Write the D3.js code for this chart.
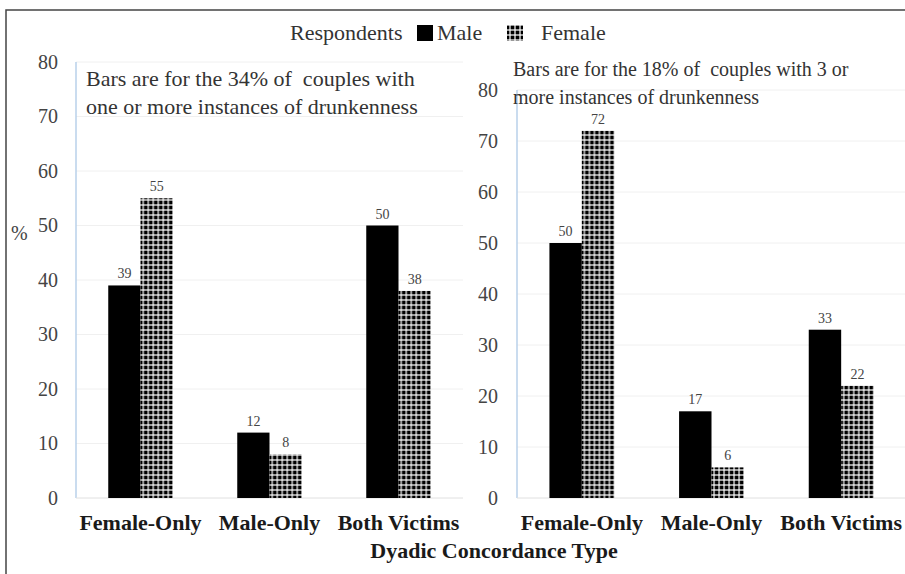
<!DOCTYPE html>
<html>
<head>
<meta charset="utf-8">
<script src="https://cdn.jsdelivr.net/npm/d3@7"></script>
<style>
  html, body { margin: 0; padding: 0; background: #fff; }
  svg { display: block; font-family: "Liberation Serif", "Times New Roman", serif; }
  .note { white-space: pre; }
</style>
</head>
<body>
<script>
// Chart data -------------------------
const categories = ['Female-Only', 'Male-Only', 'Both Victims'];
const seriesNames = ['Male', 'Female'];
const leftMale = [39, 12, 50];
const leftFemale = [55, 8, 38];
const rightMale = [50, 17, 33];
const rightFemale = [72, 6, 22];
const yTicks = [0, 10, 20, 30, 40, 50, 60, 70, 80];
const leftNote = ['Bars are for the 34% of  couples with', 'one or more instances of drunkenness'];
const rightNote = ['Bars are for the 18% of  couples with 3 or', 'more instances of drunkenness'];

const width = 905, height = 574;

const svg = d3.select('body').append('svg')
  .attr('width', width)
  .attr('height', height);

// Pattern for the female bars
const defs = svg.append('defs');
const pat = defs.append('pattern')
  .attr('id', 'dots')
  .attr('patternUnits', 'userSpaceOnUse')
  .attr('width', 5).attr('height', 5);
pat.append('rect').attr('width', 5).attr('height', 5).attr('fill', '#fff');
pat.append('rect').attr('x', 0.6).attr('y', 0.6).attr('width', 3.8).attr('height', 3.8).attr('fill', '#000');

const fillFor = name => name === 'Male' ? '#000' : 'url(#dots)';

// Frame
svg.append('path')
  .attr('d', `M6,${height} L6,10 L${width},10`)
  .attr('fill', 'none')
  .attr('stroke', '#444')
  .attr('stroke-width', 1.5);

// One panel per group of couples
const drawPanel = (opts) => {
  const {x0, x1, yTop, yBottom, male, female, note, noteX, noteY, noteSize, labelX} = opts;

  const x = d3.scaleBand()
    .domain(categories)
    .range([x0, x1])
    .paddingInner(0.5)
    .paddingOuter(0.25);

  const xs = d3.scaleBand()
    .domain(seriesNames)
    .range([0, x.bandwidth()]);

  const y = d3.scaleLinear()
    .domain([0, 80])
    .range([yBottom, yTop]);

  const g = svg.append('g');

  // gridlines
  g.append('g')
    .selectAll('line')
    .data(yTicks.slice(1))
    .join('line')
    .attr('x1', x0).attr('x2', x1)
    .attr('y1', d => y(d)).attr('y2', d => y(d))
    .attr('stroke', '#f0f0f0');

  // y axis tick labels
  const yAxis = g.append('g')
    .attr('transform', `translate(${labelX},0)`)
    .call(d3.axisLeft(y).tickValues(yTicks).tickSize(0).tickPadding(0));
  yAxis.select('.domain').remove();
  yAxis.selectAll('text')
    .attr('font-family', '"Liberation Serif", serif')
    .attr('font-size', 20)
    .attr('fill', '#444');

  // axis lines
  g.append('line')
    .attr('x1', x0).attr('x2', x0)
    .attr('y1', y(80)).attr('y2', y(0))
    .attr('stroke', '#b9d0ea').attr('stroke-width', 1.5);
  g.append('line')
    .attr('x1', x0).attr('x2', x1)
    .attr('y1', y(0)).attr('y2', y(0))
    .attr('stroke', '#e0e0e0');

  // bars
  const rows = categories.map((c, i) => ({cat: c, values: [
    {name: 'Male', value: male[i]},
    {name: 'Female', value: female[i]}
  ]}));

  const groups = g.append('g')
    .selectAll('g')
    .data(rows)
    .join('g')
    .attr('transform', d => `translate(${x(d.cat)},0)`);

  groups.selectAll('rect')
    .data(d => d.values)
    .join('rect')
    .attr('x', d => xs(d.name))
    .attr('y', d => y(d.value))
    .attr('width', xs.bandwidth())
    .attr('height', d => y(0) - y(d.value))
    .attr('fill', d => fillFor(d.name));

  groups.selectAll('text')
    .data(d => d.values)
    .join('text')
    .attr('x', d => xs(d.name) + xs.bandwidth() / 2)
    .attr('y', d => y(d.value) - 7)
    .attr('text-anchor', 'middle')
    .attr('font-size', 14)
    .attr('fill', '#444')
    .text(d => d.value);

  // category labels
  g.append('g')
    .selectAll('text')
    .data(categories)
    .join('text')
    .attr('x', d => x(d) + x.bandwidth() / 2)
    .attr('y', 530)
    .attr('text-anchor', 'middle')
    .attr('font-size', 22)
    .attr('font-weight', 'bold')
    .attr('fill', '#1a1a1a')
    .text(d => d);

  // note text
  g.append('g')
    .selectAll('text')
    .data(note)
    .join('text')
    .attr('class', 'note')
    .attr('x', noteX)
    .attr('y', (d, i) => noteY + i * 28)
    .attr('font-size', noteSize)
    .attr('fill', '#333')
    .text(d => d);
};

drawPanel({
  x0: 76, x1: 463, yTop: 62, yBottom: 498,
  male: leftMale, female: leftFemale,
  note: leftNote, noteX: 86, noteY: 86, noteSize: 22, labelX: 58
});

drawPanel({
  x0: 517, x1: 906, yTop: 90, yBottom: 498,
  male: rightMale, female: rightFemale,
  note: rightNote, noteX: 513, noteY: 76, noteSize: 20, labelX: 498
});

// y axis title
svg.append('text')
  .attr('x', 11).attr('y', 240)
  .attr('font-size', 20)
  .attr('fill', '#444')
  .text('%');

// x axis title
svg.append('text')
  .attr('x', 494).attr('y', 558)
  .attr('text-anchor', 'middle')
  .attr('font-size', 22)
  .attr('font-weight', 'bold')
  .attr('fill', '#1a1a1a')
  .text('Dyadic Concordance Type');

// Legend
const legend = svg.append('g').attr('font-size', 22).attr('fill', '#333');
legend.append('text').attr('x', 290).attr('y', 40).text('Respondents');
legend.append('rect').attr('x', 417).attr('y', 25).attr('width', 16).attr('height', 16).attr('fill', fillFor('Male'));
legend.append('text').attr('x', 437).attr('y', 40).text(seriesNames[0]);
legend.append('rect').attr('x', 507).attr('y', 25).attr('width', 16).attr('height', 16).attr('fill', fillFor('Female'));
legend.append('text').attr('x', 541).attr('y', 40).text(seriesNames[1]);
</script>
</body>
</html>
